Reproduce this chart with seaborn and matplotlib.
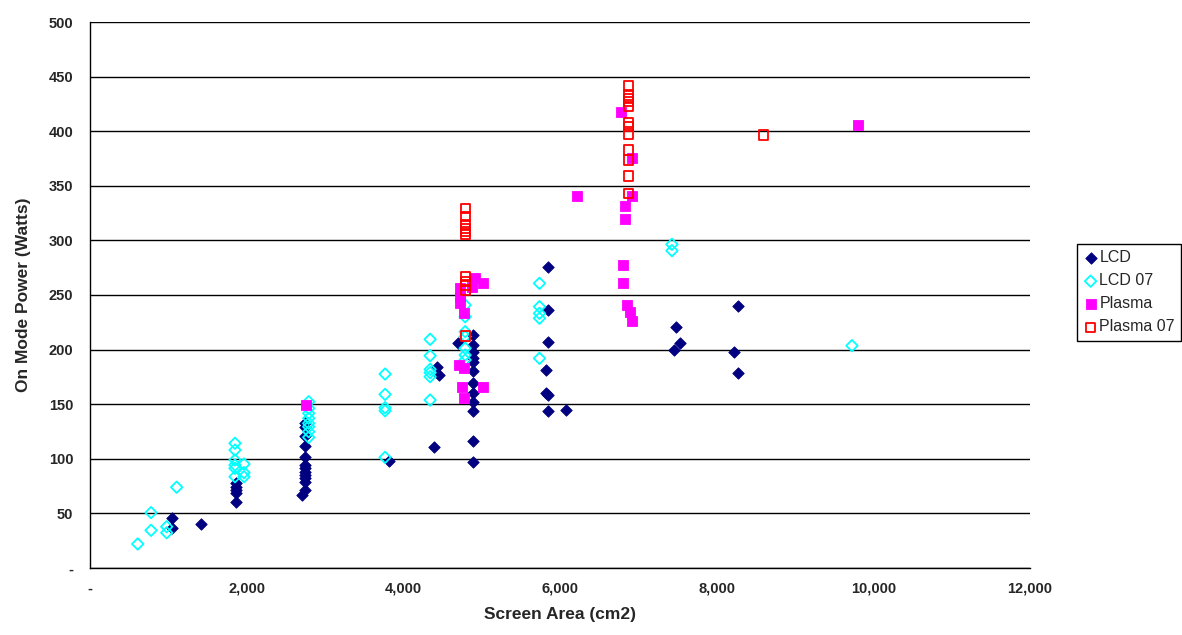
#!/usr/bin/env python3
"""Scatter of TV on-mode power against screen area, LCD vs plasma."""

import matplotlib

matplotlib.use("Agg")
import matplotlib.pyplot as plt
import pandas as pd
import seaborn as sns

# Screen area (cm2) and on-mode power (W).
LCD_AREA = [
    1043, 1043, 1421,
    1870, 1870, 1870, 1870, 1870,
    2745, 2745, 2745, 2745, 2745, 2745, 2745, 2745, 2745, 2745, 2745, 2745, 2700,
    3818,
    4393, 4428, 4449,
    4696, 4895, 4895, 4895, 4895, 4895, 4895, 4895, 4895, 4895, 4895, 4895, 4895,
    5853, 5853, 5853, 5824, 5824, 5853, 5853, 6075,
    7484, 7526, 7458, 8271, 8216, 8271,
]
LCD_POWER = [
    45.5, 36.3, 40.3,
    77.6, 74.5, 71.4, 69.0, 60.7,
    133.0, 129.4, 120.9, 111.7, 101.9, 94.3, 91.3, 88.2, 85.2, 82.1, 79.0, 71.4, 66.8,
    98.0,
    110.5, 184.4, 176.7,
    205.8, 213.4, 204.2, 198.0, 192.0, 189.0, 180.4, 169.0, 160.0, 152.3, 144.0, 116.6, 97.3,
    275.3, 236.6, 207.3, 181.3, 160.0, 158.4, 144.1, 144.7,
    221.0, 206.3, 199.6, 239.9, 197.5, 178.3,
]

LCD07_AREA = [
    609, 779, 779, 979, 979, 1106,
    1851, 1851, 1851, 1851, 1851, 1851, 1966, 1966, 1966,
    2792, 2792, 2792, 2792, 2792, 2792, 2792, 2792,
    3767, 3767, 3767, 3767, 3767,
    4342, 4342, 4342, 4342, 4342, 4342,
    4789, 4789, 4789, 4789, 4789, 4789, 4789,
    5738, 5738, 5738, 5738, 5738,
    7429, 7429,
    9727,
]
LCD07_POWER = [
    22.0, 34.5, 50.7, 37.8, 32.3, 74.0,
    114.2, 108.0, 98.9, 94.3, 91.3, 83.6, 95.2, 87.3, 83.6,
    152.3, 146.2, 141.7, 137.1, 132.5, 129.4, 124.8, 119.7,
    177.6, 159.0, 146.8, 144.0, 101.3,
    209.4, 194.4, 181.9, 178.9, 175.2, 153.8,
    240.8, 230.1, 216.4, 212.0, 201.2, 195.0, 190.5,
    260.7, 239.3, 233.2, 228.7, 192.0,
    296.4, 290.6,
    203.6,
]

PLASMA_AREA = [
    2758,
    4725, 4725, 4725, 4917, 5014, 4880,
    4771, 4716, 4771, 4746, 5014, 4771,
    6782, 6918, 6216, 6918, 6833, 6833, 6803, 6803, 6854, 6888, 6918,
    9808,
]
PLASMA_POWER = [
    149.0,
    256.0, 248.5, 243.0, 265.3, 260.7, 257.6,
    233.3, 186.0, 182.9, 166.0, 166.0, 155.4,
    417.9, 375.2, 341.0, 341.0, 331.8, 319.3, 277.5, 261.3, 240.8, 234.7, 226.5,
    405.7,
]

PLASMA07_AREA = [
    4789, 4789, 4789, 4789, 4789, 4789, 4789, 4789, 4789, 4789, 4789,
    6875, 6875, 6875, 6875, 6875, 6875, 6875, 6875, 6875, 6875, 6875, 6875,
    8599,
]
PLASMA07_POWER = [
    329.4, 321.7, 314.1, 311.1, 308.0, 305.9, 266.8, 262.2, 259.2, 254.6, 212.5,
    441.4, 433.2, 430.1, 427.0, 422.4, 407.8, 404.2, 397.4, 382.8, 373.6, 359.0, 343.1,
    396.5,
]

X_TICKS = [0, 2000, 4000, 6000, 8000, 10000, 12000]
X_TICK_LABELS = ["-", "2,000", "4,000", "6,000", "8,000", "10,000", "12,000"]
Y_TICKS = [0, 50, 100, 150, 200, 250, 300, 350, 400, 450, 500]
Y_TICK_LABELS = ["-", "50", "100", "150", "200", "250", "300", "350", "400", "450", "500"]

SERIES = [
    ("LCD", LCD_AREA, LCD_POWER),
    ("LCD 07", LCD07_AREA, LCD07_POWER),
    ("Plasma", PLASMA_AREA, PLASMA_POWER),
    ("Plasma 07", PLASMA07_AREA, PLASMA07_POWER),
]

# marker, face colour, edge colour, size
STYLES = {
    "LCD": ("D", "#000080", "#000080", 34),
    "LCD 07": ("D", "none", "#00FFFF", 34),
    "Plasma": ("s", "#FF00FF", "#FF00FF", 44),
    "Plasma 07": ("s", "none", "#FF0000", 44),
}


def main() -> None:
    frames = [pd.DataFrame({"area": xs, "power": ys, "series": name}) for name, xs, ys in SERIES]
    data = pd.concat(frames, ignore_index=True)

    sns.set_theme(style="white")
    plt.rcParams["font.family"] = ["Liberation Sans", "DejaVu Sans"]

    fig = plt.figure(figsize=(11.82, 6.35), dpi=100)
    ax = fig.add_axes([90 / 1182, 67 / 635, 940 / 1182, 546 / 635])

    for name, _, _ in SERIES:
        marker, face, edge, size = STYLES[name]
        sub = data[data["series"] == name]
        sns.scatterplot(
            data=sub,
            x="area",
            y="power",
            marker=marker,
            s=size,
            color=edge,
            facecolor=face,
            edgecolor=edge,
            linewidth=1.3 if face == "none" else 0.6,
            label=name,
            ax=ax,
            zorder=3,
        )

    ax.set_xlim(0, 12000)
    ax.set_ylim(0, 500)
    ax.set_xticks(X_TICKS, X_TICK_LABELS)
    ax.set_yticks(Y_TICKS, Y_TICK_LABELS)
    for lbl in ax.get_xticklabels() + ax.get_yticklabels():
        lbl.set_fontweight("bold")
        lbl.set_fontsize(10.5)

    ax.tick_params(axis="both", direction="out", length=4, width=1, color="black", pad=3)
    ax.tick_params(axis="y", pad=8)
    ax.tick_params(axis="x", pad=6)
    ax.yaxis.grid(True, color="black", linewidth=1.0)
    ax.xaxis.grid(False)
    ax.set_axisbelow(True)

    for side in ("top", "right"):
        ax.spines[side].set_visible(False)
    for side in ("left", "bottom"):
        ax.spines[side].set_color("black")
        ax.spines[side].set_linewidth(1.0)

    ax.set_xlabel("Screen Area (cm2)", fontsize=12.5, fontweight="bold", labelpad=8)
    ax.set_ylabel("On Mode Power (Watts)", fontsize=12.5, fontweight="bold", labelpad=13)

    handles, labels = ax.get_legend_handles_labels()
    ax.legend(
        handles,
        labels,
        loc="upper left",
        bbox_to_anchor=(1077 / 1182, 1 - 244 / 635),
        bbox_transform=fig.transFigure,
        frameon=True,
        fancybox=False,
        edgecolor="black",
        framealpha=1,
        fontsize=11.5,
        handletextpad=0.1,
        handlelength=0.9,
        borderpad=0.4,
        labelspacing=0.5,
        borderaxespad=0,
    ).get_frame().set_linewidth(1.0)

    fig.savefig("out.png", dpi=100)
    plt.close(fig)


if __name__ == "__main__":
    main()
